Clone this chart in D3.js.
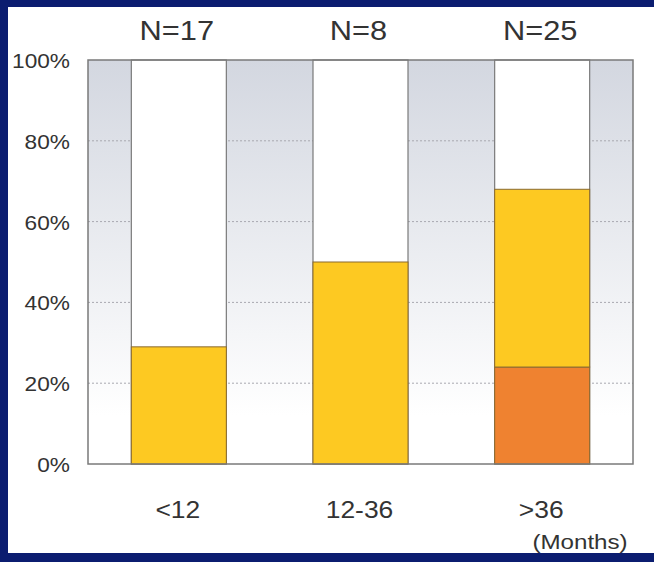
<!DOCTYPE html>
<html>
<head>
<meta charset="utf-8">
<script src="https://cdn.jsdelivr.net/npm/d3@7"></script>
<style>
	body{ margin:0; background:#0b1d70; }
	text{ font-family: "Liberation Sans", Arial, sans-serif; fill:#333; }
</style>
</head>
<body>
<div id="chart"></div>
<script>
// Data.
let categories = ["<12", "12-36", ">36"];
let counts = ["N=17", "N=8", "N=25"];
let orangeValues = [0, 0, 24];
let yellowValues = [29, 50, 44];
let yTicks = [0, 20, 40, 60, 80, 100];


let width = 654, height = 562;
let margin = {left: 88, right: 21, top: 60, bottom: 98};

let svg = d3.select("#chart")
  .append("svg")
	.attr("width", width)
	.attr("height", height);

// Navy frame with white panel.
svg.append("rect")
	.attr("width", width).attr("height", height)
	.attr("fill", "#0b1d70");
svg.append("rect")
	.attr("x", 8).attr("y", 7)
	.attr("width", width - 8).attr("height", 546)
	.attr("fill", "white");

let x = d3.scaleBand()
	.domain(categories)
	.range([margin.left, width - margin.right])
	.paddingInner(0.477)
	.paddingOuter(0.2385);

let y = d3.scaleLinear()
	.domain([0, 100])
	.range([height - margin.bottom, margin.top]);

// Background gradient of the plot area.
let grad = svg.append("defs").append("linearGradient")
	.attr("id", "bg")
	.attr("x1", 0).attr("y1", 0).attr("x2", 0).attr("y2", 1);
grad.append("stop").attr("offset", "0%").attr("stop-color", "#d3d7e0");
grad.append("stop").attr("offset", "88%").attr("stop-color", "#ffffff");

svg.append("rect")
	.attr("x", margin.left).attr("y", y(100))
	.attr("width", x.range()[1] - margin.left)
	.attr("height", y(0) - y(100))
	.attr("fill", "url(#bg)");

// Dotted gridlines.
svg.append("g")
  .selectAll("line")
  .data(yTicks.filter(t=>t>0 && t<100))
  .enter()
  .append("line")
	.attr("x1", margin.left).attr("x2", x.range()[1])
	.attr("y1", d=>y(d)).attr("y2", d=>y(d))
	.attr("stroke", "#a8a8b0")
	.attr("stroke-dasharray", "2,2");

// White columns behind the stacks.
svg.append("g")
  .selectAll("rect")
  .data(categories)
  .enter()
  .append("rect")
	.attr("x", d=>x(d)).attr("y", y(100))
	.attr("width", x.bandwidth())
	.attr("height", y(0) - y(100))
	.attr("fill", "white")
	.attr("stroke", "#7a7a7a")
	.attr("stroke-width", 1.2);

// Stacked segments.
let segments = [
	{values: orangeValues, base: categories.map(()=>0), color: "#ef8230"},
	{values: yellowValues, base: orangeValues, color: "#fdc922"},
];
segments.forEach(s=>{
	svg.append("g")
	  .selectAll("rect")
	  .data(categories.filter((c,i)=>s.values[i] > 0))
	  .enter()
	  .append("rect")
		.attr("x", d=>x(d))
		.attr("y", d=>{ let i = categories.indexOf(d); return y(s.base[i] + s.values[i]); })
		.attr("width", x.bandwidth())
		.attr("height", d=>{ let i = categories.indexOf(d); return y(s.base[i]) - y(s.base[i] + s.values[i]); })
		.attr("fill", s.color)
		.attr("stroke", "#8a6a30")
		.attr("stroke-width", 1);
});

// Plot frame.
svg.append("rect")
	.attr("x", margin.left).attr("y", y(100))
	.attr("width", x.range()[1] - margin.left)
	.attr("height", y(0) - y(100))
	.attr("fill", "none")
	.attr("stroke", "#7a7a7a")
	.attr("stroke-width", 1.5);

// Y tick labels.
svg.append("g")
  .selectAll("text")
  .data(yTicks)
  .enter()
  .append("text")
	.attr("transform", d=>`translate(70,${ y(d) + 8 }) scale(1.08,1)`)
	.attr("text-anchor", "end")
	.style("font-size", "21px")
	.text(d=>d + "%");

// N labels above the bars.
svg.append("g")
  .selectAll("text")
  .data(categories)
  .enter()
  .append("text")
	.attr("transform", (d,i)=>`translate(${ x(d) + x.bandwidth()/2 - 2 },40) scale(1.1,1)`)
	.attr("text-anchor", "middle")
	.style("font-size", "28px")
	.text((d,i)=>counts[i]);

// Category labels.
svg.append("g")
  .selectAll("text")
  .data(categories)
  .enter()
  .append("text")
	.attr("transform", d=>`translate(${ x(d) + x.bandwidth()/2 - 1 },518) scale(1.15,1)`)
	.attr("text-anchor", "middle")
	.style("font-size", "23px")
	.text(d=>d);

svg.append("text")
	.attr("transform", `translate(580,549) scale(1.15,1)`)
	.attr("text-anchor", "middle")
	.style("font-size", "21px")
	.text("(Months)");
</script>
</body>
</html>
